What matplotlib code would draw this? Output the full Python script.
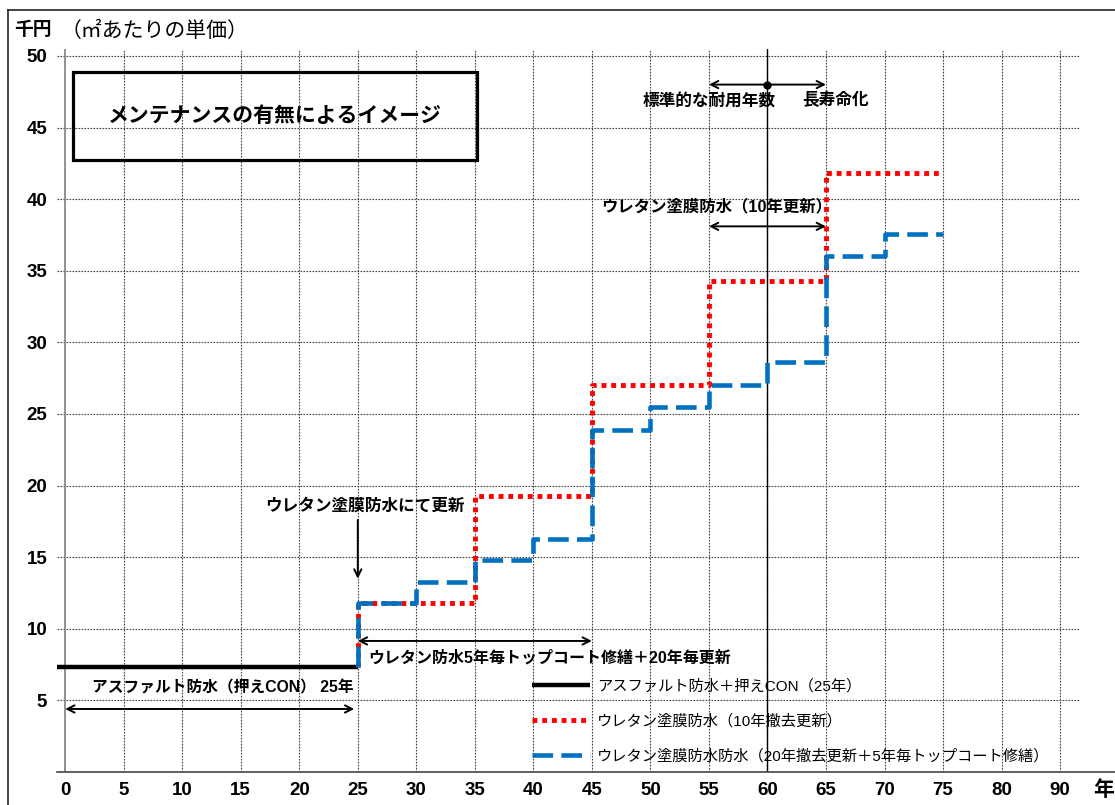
import matplotlib.pyplot as plt
from matplotlib.lines import Line2D
from matplotlib.patches import Rectangle

plt.rcParams['font.family'] = ['Liberation Sans', 'Noto Sans CJK JP']

# Data (thousand yen per m2)
asphalt_end = 25
asphalt_level = 7.35

red_edges = [25, 35, 45, 55, 65, 75]
red_levels = [11.8, 19.3, 27.0, 34.3, 41.8]

blue_edges = [25, 30, 35, 40, 45, 50, 55, 60, 65, 70, 75]
blue_levels = [11.8, 13.3, 14.8, 16.3, 23.9, 25.5, 27.0, 28.6, 36.0, 37.6]

x_ticks = list(range(0, 90, 5))
x_labels = ['0', '5', '10', '15', '20', '25', '30', '35', '40', '45',
            '50', '55', '60', '65', '70', '75', '80', '90']
y_ticks = list(range(5, 55, 5))

legend_labels = ['アスファルト防水＋押えCON（25年）',
                 'ウレタン塗膜防水（10年撤去更新）',
                 'ウレタン塗膜防水防水（20年撤去更新＋5年毎トップコート修繕）']

fig = plt.figure(figsize=(11.15, 8.05), dpi=100)
ax = fig.add_axes([0.0511, 0.041, 0.9175, 0.8984])
ax.set_xlim(-0.7, 86.7)
ax.set_ylim(0, 50.5)

# grid
for x in x_ticks[1:]:
    ax.axvline(x, color='#444444', lw=0.8, ls=(0, (1.5, 1.2)), zorder=1)
for y in y_ticks:
    ax.axhline(y, color='#444444', lw=0.8, ls=(0, (1.5, 1.2)), zorder=1)
ax.axvline(0, color='#808080', lw=1.2, zorder=1)
ax.axvline(60, color='black', lw=1.0, zorder=1)

# series
l1, = ax.plot([ax.get_xlim()[0], asphalt_end], [asphalt_level, asphalt_level],
              color='black', lw=3.2, solid_capstyle='butt', zorder=3)
rx = [red_edges[0]] + red_edges
ry = [asphalt_level] + red_levels + [red_levels[-1]]
l2, = ax.plot(rx, ry, drawstyle='steps-post', color='#FF0000', lw=3.5,
              ls=(0, (1, 1)), zorder=4)
bx = [blue_edges[0]] + blue_edges
by = [asphalt_level] + blue_levels + [blue_levels[-1]]
l3, = ax.plot(bx, by, drawstyle='steps-post', color='#0070C0', lw=3.3,
              ls=(0, (4.5, 1.8)), zorder=5)

ax.set_xticks(x_ticks)
ax.set_xticklabels(x_labels)
ax.set_yticks(y_ticks)
ax.tick_params(length=0, labelsize=13.5, pad=7)
for lab in ax.get_xticklabels() + ax.get_yticklabels():
    lab.set_fontweight('bold')

for s in ['top', 'right', 'left', 'bottom']:
    ax.spines[s].set_visible(False)
ax.add_line(Line2D([0, 1.06], [0, 0], transform=ax.transAxes, color='#444444',
                   lw=1.2, clip_on=False))
ax.text(1.013, -0.025, '年', transform=ax.transAxes, fontsize=15,
        fontweight='bold', ha='left', va='center')

# title box
ax.add_patch(Rectangle((0.0156, 0.8465), 0.395, 0.1217, transform=ax.transAxes,
                       fill=False, lw=2.3, ec='black', zorder=6))
ax.text(0.2132, 0.9073, 'メンテナンスの有無によるイメージ', transform=ax.transAxes,
        fontsize=15, fontweight='bold', ha='center', va='center', zorder=7)

fig.text(0.0126, 0.962, '千円', fontsize=13.5, fontweight='bold', va='center')
fig.text(0.0545, 0.962, '（㎡あたりの単価）', fontsize=15, va='center')

# annotations
arw = dict(arrowstyle='<->', lw=1.4, color='black', mutation_scale=13,
           shrinkA=0, shrinkB=0)
ax.annotate('', xy=(55, 48.0), xytext=(65, 48.0), arrowprops=arw)
ax.plot([60], [48.0], 'o', color='black', ms=5, zorder=6)
ax.text(55.05, 46.9, '標準的な耐用年数', fontsize=12, fontweight='bold',
        ha='center', va='center')
ax.text(65.8, 46.9, '長寿命化', fontsize=12, fontweight='bold',
        ha='center', va='center')

ax.text(55.7, 39.5, 'ウレタン塗膜防水（10年更新）', fontsize=11.8, fontweight='bold',
        ha='center', va='center')
ax.annotate('', xy=(55, 38.1), xytext=(65, 38.1), arrowprops=arw)

ax.text(25.6, 18.6, 'ウレタン塗膜防水にて更新', fontsize=12, fontweight='bold',
        ha='center', va='center')
ax.annotate('', xy=(25, 13.5), xytext=(25, 17.6),
            arrowprops=dict(arrowstyle='->', lw=1.4, color='black',
                            mutation_scale=13, shrinkA=0, shrinkB=0))

ax.annotate('', xy=(25, 9.15), xytext=(45, 9.15), arrowprops=arw)
ax.text(25.9, 8.0, 'ウレタン防水5年毎トップコート修繕＋20年毎更新', fontsize=11.5,
        fontweight='bold', ha='left', va='center')

ax.text(2.3, 5.87, 'アスファルト防水（押えCON） 25年', fontsize=11.3,
        fontweight='bold', ha='left', va='center')
ax.annotate('', xy=(0, 4.4), xytext=(24.7, 4.4), arrowprops=arw)

ax.legend([l1, l2, l3], legend_labels, loc='upper left',
          bbox_to_anchor=(0.464, 0.129), frameon=False, fontsize=11,
          handlelength=3.8, handletextpad=0.5, labelspacing=1.35,
          borderpad=0, borderaxespad=0)

# outer frame
fig.add_artist(Line2D([8 / 1115, 8 / 1115], [0, 1 - 10 / 805], color='#222222', lw=1.2))
fig.add_artist(Line2D([8 / 1115, 1], [1 - 10 / 805, 1 - 10 / 805], color='#222222', lw=1.2))

fig.savefig('out.png', dpi=100)
